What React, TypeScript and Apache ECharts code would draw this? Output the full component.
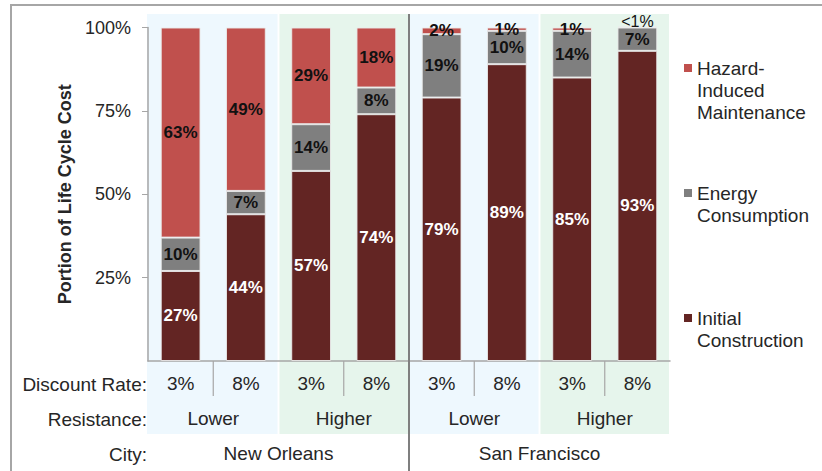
import React, { useEffect, useRef } from "react";
import * as echarts from "echarts";

const discountRates = ["3%", "8%", "3%", "8%", "3%", "8%", "3%", "8%"];
const resistances = ["Lower", "Higher", "Lower", "Higher"];
const cities = ["New Orleans", "San Francisco"];
const seriesNames = ["Hazard-Induced Maintenance", "Energy Consumption", "Initial Construction"];
const initialValues = [27, 44, 57, 74, 79, 89, 85, 93];
const energyValues = [10, 7, 14, 8, 19, 10, 14, 7];
const hazardValues = [63, 49, 29, 18, 2, 1, 1, 0.3];
const hazardLabels = ["63%", "49%", "29%", "18%", "2%", "1%", "1%", "<1%"];
const yTicks = [0, 25, 50, 75, 100];
const rowTitles = ["Discount Rate:", "Resistance:", "City:"];

const FONT = 'Arial, "Liberation Sans", sans-serif';
const TEXT = "#262626";
const AXIS = "#a6a6a6";
const BAND_COLORS = ["#eef8fe", "#e6f5ec"];
const CAT_FONT = 19;

const legendText: Record<string, string> = {
  "Hazard-Induced Maintenance": "\n\nHazard-\nInduced\nMaintenance",
  "Energy Consumption": "\n\nEnergy\nConsumption\n",
  "Initial Construction": "\n\nInitial\nConstruction\n",
};

export default function App() {
  const ref = useRef<HTMLDivElement>(null);
  useEffect(() => {
    if (!ref.current) return;
    const chart = echarts.init(ref.current, undefined, { renderer: "svg" });
    const labelBase = {
      show: true,
      position: "inside" as const,
      fontFamily: FONT,
      fontSize: 17,
      fontWeight: "bold" as const,
    };
    const itemBorder = { borderColor: "rgba(235,235,235,0.9)", borderWidth: 1 };
    chart.setOption({
      animation: false,
      backgroundColor: "#ffffff",
      textStyle: { fontFamily: FONT },
      grid: { left: 148, right: 152, top: 27.5, bottom: 110, containLabel: false },
      legend: {
        orient: "vertical",
        left: 679,
        top: 8,
        itemGap: 15,
        itemWidth: 8,
        itemHeight: 8,
        icon: "rect",
        selectedMode: false,
        data: seriesNames,
        itemStyle: { borderWidth: 0 },
        formatter: (name: string) => legendText[name] || name,
        textStyle: { fontFamily: FONT, fontSize: CAT_FONT, lineHeight: 22, color: TEXT },
      },
      xAxis: [
        {
          type: "category",
          data: discountRates,
          axisLine: { show: true, lineStyle: { color: AXIS, width: 1.5 } },
          axisTick: { show: false },
          axisLabel: { fontSize: CAT_FONT, color: TEXT, margin: 13, fontFamily: FONT },
        },
        {
          type: "category",
          data: resistances,
          position: "bottom",
          offset: 35,
          axisLine: { show: false },
          axisTick: { show: false },
          axisLabel: { fontSize: CAT_FONT, color: TEXT, margin: 13, fontFamily: FONT },
        },
        {
          type: "category",
          data: cities,
          position: "bottom",
          offset: 70,
          axisLine: { show: false },
          axisTick: { show: false },
          axisLabel: { fontSize: CAT_FONT, color: TEXT, margin: 13, fontFamily: FONT },
        },
      ],
      yAxis: {
        type: "value",
        min: yTicks[0],
        max: yTicks[yTicks.length - 1],
        interval: 25,
        name: "Portion of Life Cycle Cost",
        nameLocation: "middle",
        nameGap: 73,
        nameTextStyle: { fontSize: 18, fontWeight: "bold", color: TEXT, fontFamily: FONT },
        axisLine: { show: true, lineStyle: { color: AXIS, width: 1.5 } },
        axisTick: { show: true, length: 6, lineStyle: { color: AXIS } },
        splitLine: { show: false },
        axisLabel: {
          fontSize: 18,
          color: TEXT,
          margin: 17,
          fontFamily: FONT,
          showMinLabel: false,
          formatter: "{value}%",
        },
      },
      series: [
        {
          name: seriesNames[2],
          type: "bar",
          stack: "cost",
          barWidth: "61%",
          data: initialValues,
          itemStyle: { color: "#632523", ...itemBorder },
          label: { ...labelBase, color: "#ffffff", formatter: "{c}%" },
        },
        {
          name: seriesNames[1],
          type: "bar",
          stack: "cost",
          barWidth: "61%",
          data: energyValues,
          itemStyle: { color: "#7f7f7f", ...itemBorder },
          label: { ...labelBase, color: "#111111", formatter: "{c}%" },
        },
        {
          name: seriesNames[0],
          type: "bar",
          stack: "cost",
          barWidth: "61%",
          clip: false,
          data: hazardValues.map((v, i) =>
            i === hazardValues.length - 1
              ? { value: v, label: { offset: [0, -5], fontWeight: "normal", fontSize: 16 } }
              : v
          ),
          itemStyle: { color: "#c0504d", ...itemBorder },
          label: {
            ...labelBase,
            color: "#111111",
            formatter: (p: any) => hazardLabels[p.dataIndex],
          },
        },
      ],
    });

    const xs = discountRates.map((_, i) => chart.convertToPixel({ xAxisIndex: 0 }, i) as number);
    const cw = xs[1] - xs[0];
    const yTop = chart.convertToPixel({ yAxisIndex: 0 }, 100) as number;
    const yZero = chart.convertToPixel({ yAxisIndex: 0 }, 0) as number;
    const graphics: any[] = [];
    resistances.forEach((_, g) => {
      const x0 = xs[2 * g] - cw / 2 + (g === 0 ? -1 : 1);
      const x1 = xs[2 * g + 1] + cw / 2 - 1;
      graphics.push({
        type: "rect",
        z: -10,
        silent: true,
        shape: { x: x0, y: yTop - 13.5, width: x1 - x0, height: yZero + 73 - (yTop - 13.5) },
        style: { fill: BAND_COLORS[g % 2] },
      });
      graphics.push({
        type: "line",
        z: 5,
        silent: true,
        shape: { x1: xs[2 * g] + cw / 2, y1: yZero, x2: xs[2 * g] + cw / 2, y2: yZero + 35 },
        style: { stroke: AXIS, lineWidth: 1.2 },
      });
    });
    const sepX = (xs[3] + xs[4]) / 2;
    graphics.push({
      type: "line",
      z: 5,
      silent: true,
      shape: { x1: sepX, y1: yTop - 13.5, x2: sepX, y2: 471 },
      style: { stroke: "#7f7f7f", lineWidth: 2 },
    });
    graphics.push({
      type: "polyline",
      z: 5,
      silent: true,
      shape: { points: [[11, 471], [11, 5], [822, 5]] },
      style: { stroke: "#a6a6a6", lineWidth: 2, fill: "none" },
    });
    rowTitles.forEach((t, i) => {
      graphics.push({
        type: "text",
        z: 5,
        silent: true,
        x: xs[0] - cw / 2 - 1,
        y: yZero + 23 + 35 * i,
        style: {
          text: t,
          fill: TEXT,
          font: `${CAT_FONT}px ${FONT}`,
          textAlign: "right",
          textVerticalAlign: "middle",
        },
      });
    });
    chart.setOption({ graphic: graphics });

    return () => chart.dispose();
  }, []);
  return (
    <div
      ref={ref}
      style={{ position: "fixed", left: 0, top: 0, width: 822, height: 471, background: "#fff" }}
    />
  );
}
